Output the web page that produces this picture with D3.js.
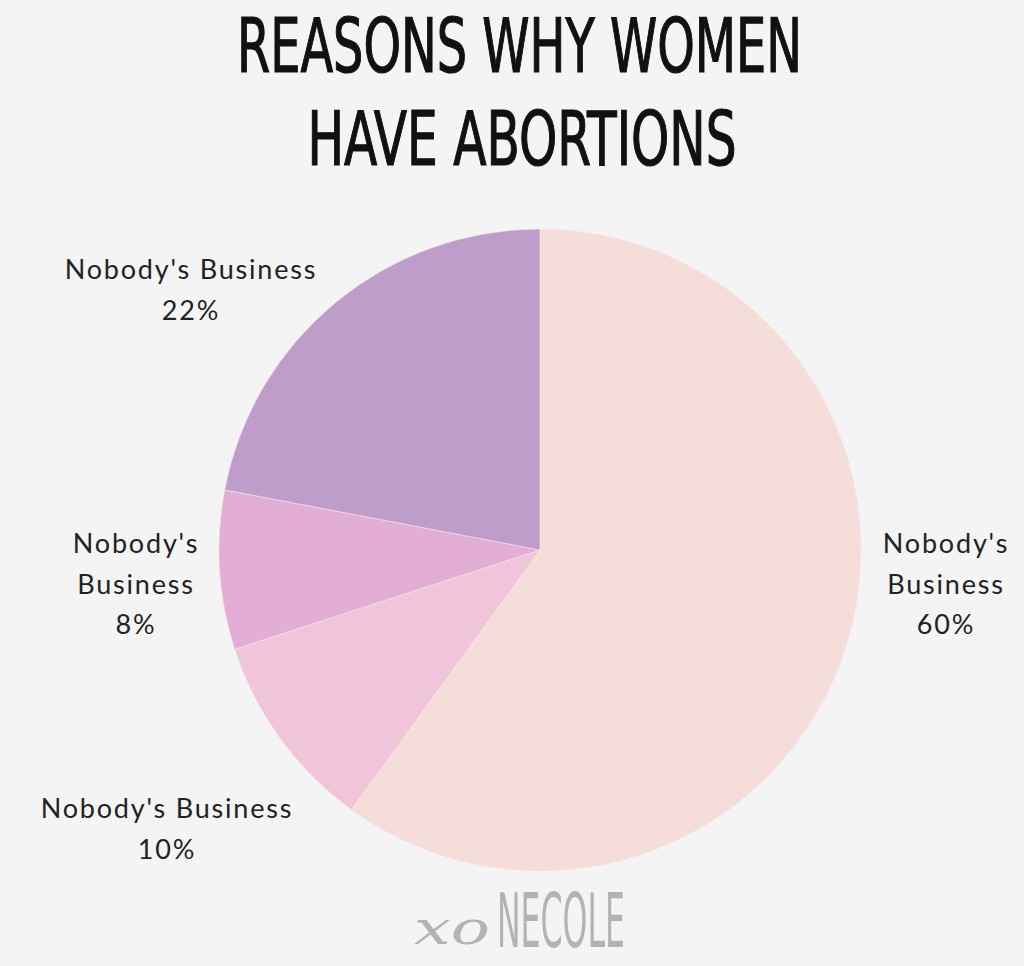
<!DOCTYPE html>
<html>
<head>
<meta charset="utf-8">
<script src="https://cdn.jsdelivr.net/npm/d3@7"></script>
<style>
  html, body { margin: 0; padding: 0; background: #f4f4f4; }
  svg { display: block; }
</style>
</head>
<body>
<svg id="chart" width="1024" height="966"></svg>
<script>
// ---- data ----
const titleLines = ["REASONS WHY WOMEN", "HAVE ABORTIONS"];
const categories = ["Nobody's Business", "Nobody's Business", "Nobody's Business", "Nobody's Business"];
const values = [60, 10, 8, 22];
const valueLabels = ["60%", "10%", "8%", "22%"];
const colors = ["#f5ddd9", "#f1c5d9", "#e2aed6", "#bf9dcb"];
const watermark = "NECOLE";

// ---- layout (positions of label blocks, lines split per slice) ----
const labelLayout = [
  { x: 945, y: 553, lines: ["Nobody's", "Business"] },
  { x: 166, y: 818, lines: ["Nobody's Business"] },
  { x: 135, y: 553, lines: ["Nobody's", "Business"] },
  { x: 190, y: 279, lines: ["Nobody's Business"] }
];

const W = 1024, H = 966;
const cx = 540, cy = 550, R = 321;
const svg = d3.select("#chart");

svg.append("rect").attr("width", W).attr("height", H).attr("fill", "#f4f4f4");

// title
const title = svg.append("g").attr("font-family", "'Liberation Sans Narrow', 'DejaVu Sans Condensed', sans-serif")
  .attr("font-weight", "normal").attr("fill", "#111").attr("font-size", 74)
  .attr("stroke", "#111").attr("stroke-width", 1.2);
const titleSpec = [{ y: 72, x: 519.5, len: 565 }, { y: 165, x: 522, len: 429 }];
titleLines.forEach((t, i) => {
  title.append("text")
    .attr("x", titleSpec[i].x - titleSpec[i].len / 2)
    .attr("y", titleSpec[i].y)
    .attr("textLength", titleSpec[i].len)
    .attr("lengthAdjust", "spacingAndGlyphs")
    .text(t);
});

// pie
const pie = d3.pie().sort(null).value(d => d)(values);
const arc = d3.arc().innerRadius(0).outerRadius(R);
const color = d3.scaleOrdinal().domain(d3.range(values.length)).range(colors);
svg.append("g").attr("transform", `translate(${cx},${cy})`)
  .selectAll("path").data(pie).join("path")
  .attr("d", arc)
  .attr("fill", (d, i) => color(i))
  .attr("stroke", "#f7e6ea").attr("stroke-width", 0.6);

// labels
const lab = svg.append("g").attr("font-family", "Lato, 'Open Sans', sans-serif")
  .attr("font-size", 27).attr("fill", "#222").attr("text-anchor", "middle")
  .attr("letter-spacing", 1.8);
categories.forEach((c, i) => {
  const L = labelLayout[i];
  const t = lab.append("text").attr("x", L.x + 1).attr("y", L.y);
  const lines = L.lines.concat([valueLabels[i]]);
  lines.forEach((ln, j) => {
    t.append("tspan").attr("x", L.x + 1).attr("dy", j === 0 ? 0 : 40.5).text(ln);
  });
});

// watermark
const wm = svg.append("g").attr("fill", "#b3b3b3");
wm.append("text")
  .attr("x", 414).attr("y", 944)
  .attr("font-family", "'DejaVu Serif', serif").attr("font-style", "italic")
  .attr("font-size", 46)
  .attr("textLength", 76).attr("lengthAdjust", "spacingAndGlyphs")
  .text("xo");
wm.append("text")
  .attr("x", 497).attr("y", 947)
  .attr("font-family", "'Liberation Sans Narrow', 'DejaVu Sans Condensed', sans-serif")
  .attr("font-size", 74)
  .attr("textLength", 128).attr("lengthAdjust", "spacingAndGlyphs")
  .text(watermark);
</script>
</body>
</html>
